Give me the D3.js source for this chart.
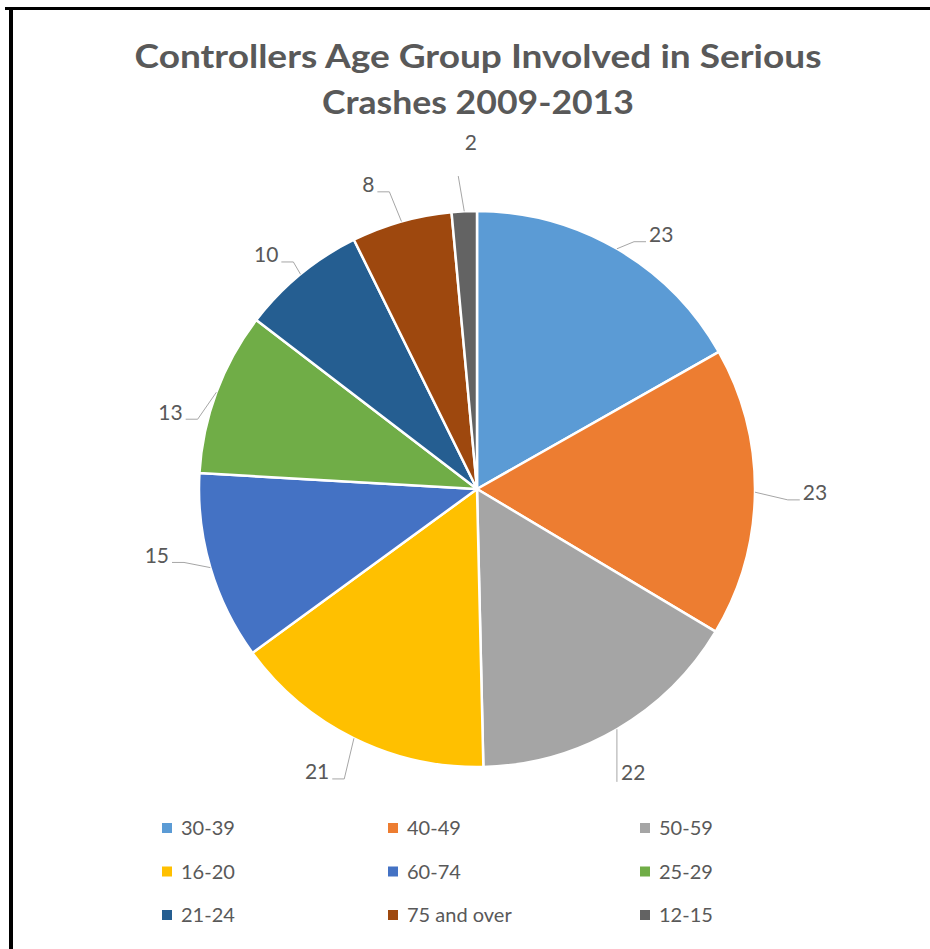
<!DOCTYPE html>
<html><head><meta charset="utf-8">
<script src="https://cdn.jsdelivr.net/npm/d3@7"></script>
<style>body{margin:0;background:#fff;overflow:hidden}</style>
</head><body><svg id="c" width="930" height="949"></svg>
<script>
const categories = ["30-39","40-49","50-59","16-20","60-74","25-29","21-24","75 and over","12-15"];
const values = [23,23,22,21,15,13,10,8,2];
const colors = ["#5B9BD5","#ED7D31","#A5A5A5","#FFC000","#4472C4","#70AD47","#255E91","#9E480E","#636363"];
const titleLines = ["Controllers Age Group Involved in Serious","Crashes 2009-2013"];
// label layout (best-fit placement): angle shift from slice middle (deg) and gap outside the pie (px)
const labelShift = [5.7, 0, 1.4, 3.2, 4.7, -6.3, -2.6, -3.9, 1.6];
const labelGap = [36, 60, 46, 47, 49, 38, 37, 45, 68];

const svg = d3.select("#c");
const textColor = "#595959";
const font = "Lato, 'Open Sans', sans-serif";

// frame lines
svg.append("rect").attr("x",5).attr("y",7).attr("width",925).attr("height",3).attr("fill","#000");
svg.append("rect").attr("x",9).attr("y",7).attr("width",4).attr("height",942).attr("fill","#000");

// title
const tw = [687, 312];
svg.selectAll("text.title").data(titleLines).join("text")
  .attr("class","title")
  .attr("x",478).attr("y",(d,i)=>57+i*46).attr("dy","0.35em")
  .attr("text-anchor","middle")
  .attr("font-family",font).attr("font-weight","bold").attr("font-size",32)
  .attr("fill",textColor)
  .attr("textLength",(d,i)=>tw[i]).attr("lengthAdjust","spacingAndGlyphs")
  .text(d=>d);

const cx = 477, cy = 489, r = 278;
const data = categories.map((c,i)=>({cat:c, value:values[i], color:colors[i], i}));
const pie = d3.pie().value(d=>d.value).sort(null);
const arcs = pie(data);
const arc = d3.arc().innerRadius(0).outerRadius(r);

const g = svg.append("g").attr("transform",`translate(${cx},${cy})`);
g.selectAll("path.slice").data(arcs).join("path")
  .attr("class","slice")
  .attr("d",arc)
  .attr("fill",d=>d.data.color)
  .attr("stroke","#fff").attr("stroke-width",2.5).attr("stroke-linejoin","round");

const polar = (ang, rad) => [Math.sin(ang)*rad, -Math.cos(ang)*rad];

// labels
const labels = g.selectAll("text.lbl").data(arcs).join("text")
  .attr("class","lbl")
  .attr("font-family",font).attr("font-size",21).attr("fill",textColor)
  .attr("text-anchor","middle").attr("dy","0.35em")
  .each(function(d){
    const mid = (d.startAngle+d.endAngle)/2;
    const a = mid + labelShift[d.data.i]*Math.PI/180;
    const p = polar(a, r + labelGap[d.data.i]);
    d.lx = p[0]; d.ly = p[1];
    d3.select(this).attr("x",p[0]).attr("y",p[1]);
  })
  .text(d=>d.data.value);

labels.each(function(d){
  const w = this.getComputedTextLength();
  const mid = (d.startAngle+d.endAngle)/2;
  const e = polar(mid, r);
  let pts;
  if (d.lx - w/2 - 3 > e[0] + 4) {
    const end = [d.lx - w/2 - 3, d.ly + 7];
    const elb = [end[0]-12, end[1]];
    pts = elb[0] > e[0] ? [e, elb, end] : [e, end];
  } else if (d.lx + w/2 + 3 < e[0] - 4) {
    const end = [d.lx + w/2 + 3, d.ly + 7];
    const elb = [end[0]+12, end[1]];
    pts = elb[0] < e[0] ? [e, elb, end] : [e, end];
  } else {
    const end = d.ly < e[1] ? [e[0]-6, d.ly + 33] : [e[0], d.ly + 9];
    pts = [e, end];
  }
  g.append("path").attr("d", d3.line()(pts))
    .attr("fill","none").attr("stroke","#a6a6a6").attr("stroke-width",1);
});

// legend
const colX = d3.scaleOrdinal().domain([0,1,2]).range([162, 388, 640]);
const rowY = d3.scalePoint().domain([0,1,2]).range([828, 915]);
const leg = svg.selectAll("g.leg").data(data).join("g").attr("class","leg")
  .attr("transform",d=>`translate(${colX(d.i%3)},${rowY(Math.floor(d.i/3))})`);
leg.append("rect").attr("x",0).attr("y",-5).attr("width",10).attr("height",10).attr("fill",d=>d.color);
leg.append("text").attr("x",19).attr("dy","0.35em")
  .attr("font-family",font).attr("font-size",20).attr("fill",textColor)
  .text(d=>d.cat);
</script>
</body></html>
